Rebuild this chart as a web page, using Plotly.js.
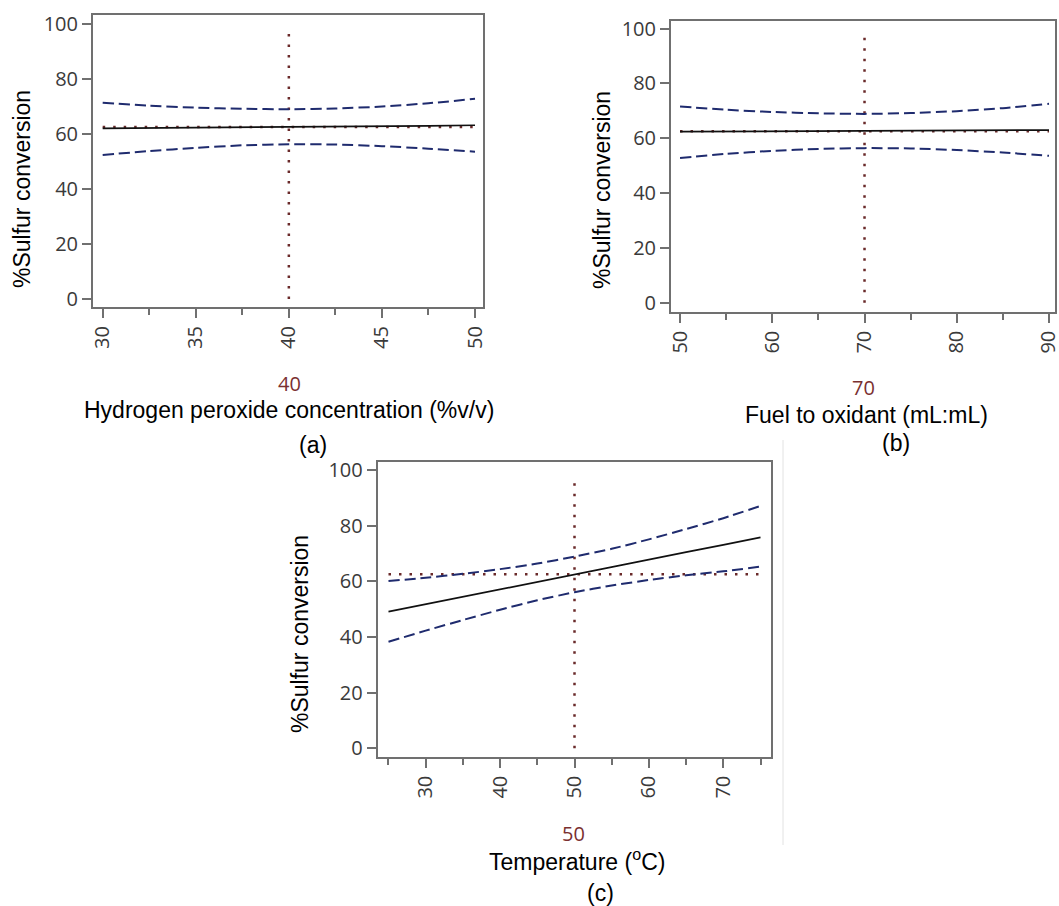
<!DOCTYPE html>
<html>
<head>
<meta charset="utf-8">
<script src="https://cdn.plot.ly/plotly-3.0.1.min.js"></script>
<style>html,body{margin:0;padding:0;background:#fff;}#chart{width:1059px;height:906px;}</style>
</head>
<body>
<div id="chart"></div>
<script>
// ---- Panel (a): Hydrogen peroxide concentration ----
var xA = [30, 32.5, 35, 37.5, 40, 42.5, 45, 47.5, 50];
var fitA = [62.1, 62.2, 62.4, 62.5, 62.6, 62.8, 62.9, 63.0, 63.2];
var upA = [71.4, 70.3, 69.6, 69.2, 69.0, 69.3, 70.0, 71.2, 72.8];
var loA = [52.4, 53.8, 55.0, 55.9, 56.3, 56.2, 55.6, 54.7, 53.6];
var curA = 40, predA = 62.6;
var rangeXA = [30, 50];

// ---- Panel (b): Fuel to oxidant ----
var xB = [50, 55, 60, 65, 70, 75, 80, 85, 90];
var fitB = [62.4, 62.5, 62.5, 62.6, 62.7, 62.7, 62.8, 62.9, 63.0];
var upB = [71.6, 70.4, 69.6, 69.1, 68.9, 69.2, 69.9, 71.0, 72.6];
var loB = [52.8, 54.3, 55.4, 56.1, 56.4, 56.3, 55.7, 54.8, 53.6];
var curB = 70, predB = 62.6;
var rangeXB = [50, 90];

// ---- Panel (c): Temperature ----
var xC = [25, 30, 35, 40, 45, 50, 55, 60, 65, 70, 75];
var fitC = [49.1, 51.8, 54.4, 57.1, 59.8, 62.5, 65.1, 67.8, 70.5, 73.1, 75.8];
var upC = [60.1, 61.3, 62.7, 64.4, 66.4, 68.9, 71.7, 75.1, 78.8, 82.7, 87.1];
var loC = [38.3, 42.3, 46.1, 49.8, 53.2, 56.1, 58.5, 60.5, 62.2, 63.6, 65.3];
var curC = 50, predC = 62.6;
var rangeXC = [25, 75];

var refTop = 98;
var yTicks = [0, 20, 40, 60, 80, 100];

var ciColor = '#1f2b6e', fitColor = '#111111', refColor = '#6a2a2a';

function panel(xs, fit, up, lo, cur, pred, rng, xa, ya) {
  var ciLine = function(){ return {color: ciColor, width: 2, dash: '11px,5px', shape: 'spline', smoothing: 0.6}; };
  var refLine = function(){ return {color: refColor, width: 2.5, dash: '2.5px,8px'}; };
  return [
    {x: rng, y: [pred, pred], xaxis: xa, yaxis: ya, mode: 'lines', line: refLine()},
    {x: [cur, cur], y: [0, refTop], xaxis: xa, yaxis: ya, mode: 'lines', line: refLine()},
    {x: xs, y: up, xaxis: xa, yaxis: ya, mode: 'lines', line: ciLine()},
    {x: xs, y: lo, xaxis: xa, yaxis: ya, mode: 'lines', line: ciLine()},
    {x: xs, y: fit, xaxis: xa, yaxis: ya, mode: 'lines', line: {color: fitColor, width: 1.7}}
  ];
}

var data = [].concat(
  panel(xA, fitA, upA, loA, curA, predA, rangeXA, 'x', 'y'),
  panel(xB, fitB, upB, loB, curB, predB, rangeXB, 'x2', 'y2'),
  panel(xC, fitC, upC, loC, curC, predC, rangeXC, 'x3', 'y3')
);

var W = 1059, H = 906;
function px(x){ return x / W; }
function py(y){ return 1 - y / H; }

var frameColor = '#707070';
var tickFont = {family: 'Open Sans, DejaVu Sans, sans-serif', size: 20, color: '#3a3a3a'};
function xaxis(dom, rng, dtick, minor, anchor) {
  return {domain: dom, range: rng, dtick: dtick, tick0: 0, ticks: 'outside', ticklen: 9, tickwidth: 2,
    tickcolor: frameColor, showline: true, mirror: true, linecolor: frameColor, linewidth: 2,
    showgrid: false, zeroline: false, tickangle: -90, tickfont: tickFont, anchor: anchor,
    ticklabeloverflow: 'allow',
    minor: {dtick: minor, tick0: 0, ticks: 'outside', ticklen: 6, tickwidth: 2, tickcolor: frameColor, showgrid: false},
    fixedrange: true};
}
function yaxis(dom, rng, anchor) {
  return {domain: dom, range: rng, tickvals: yTicks, ticks: 'outside', ticklen: 9, tickwidth: 2,
    tickcolor: frameColor, showline: true, mirror: true, linecolor: frameColor, linewidth: 2,
    showgrid: false, zeroline: false, tickfont: tickFont, anchor: anchor, fixedrange: true};
}

var titleFont = {family: 'Liberation Sans, Arial, sans-serif', size: 23, color: '#000'};
var valFont = {family: 'Open Sans, DejaVu Sans, sans-serif', size: 20, color: '#7a3030'};

function ann(text, x, y, font, angle) {
  return {text: text, xref: 'paper', yref: 'paper', x: px(x), y: py(y), xanchor: 'center', yanchor: 'middle',
    showarrow: false, font: font, textangle: angle || 0};
}

var layout = {
  width: W, height: H,
  margin: {l: 0, r: 0, t: 0, b: 0},
  paper_bgcolor: '#fff', plot_bgcolor: '#fff',
  showlegend: false, hovermode: false,
  xaxis: xaxis([px(93), px(483)], [29.48, 50.43], 5, 2.5, 'y'),
  yaxis: yaxis([py(307), py(15)], [-2.9, 103.3], 'x'),
  xaxis2: xaxis([px(671), px(1055)], [49.02, 90.65], 10, 5, 'y2'),
  yaxis2: yaxis([py(311.7), py(21)], [-3.3, 102.8], 'x2'),
  xaxis3: xaxis([px(377.7), px(770.7)], [23.55, 76.37], 10, 5, 'y3'),
  yaxis3: yaxis([py(756.7), py(461.7)], [-3.0, 103.0], 'x3'),
  annotations: [
    ann('%Sulfur conversion', 22, 189, titleFont, -90),
    ann(String(curA), 289, 383, valFont),
    ann('Hydrogen peroxide concentration (%v/v)', 289, 410, titleFont),
    ann('(a)', 313, 445, titleFont),
    ann('%Sulfur conversion', 602, 190, titleFont, -90),
    ann(String(curB), 863, 387, valFont),
    ann('Fuel to oxidant (mL:mL)', 866, 415, titleFont),
    ann('(b)', 896, 443, titleFont),
    ann('%Sulfur conversion', 300, 634, titleFont, -90),
    ann(String(curC), 573, 833, valFont),
    ann('Temperature (<sup>o</sup>C)', 577, 860, titleFont),
    ann('(c)', 600, 893, titleFont)
  ],
  shapes: [
    {type: 'line', xref: 'paper', yref: 'paper', x0: px(783), x1: px(783), y0: py(440), y1: py(845),
     line: {color: '#e2e2e2', width: 1}}
  ]
};

Plotly.newPlot('chart', data, layout, {staticPlot: true, displayModeBar: false});
</script>
</body>
</html>
